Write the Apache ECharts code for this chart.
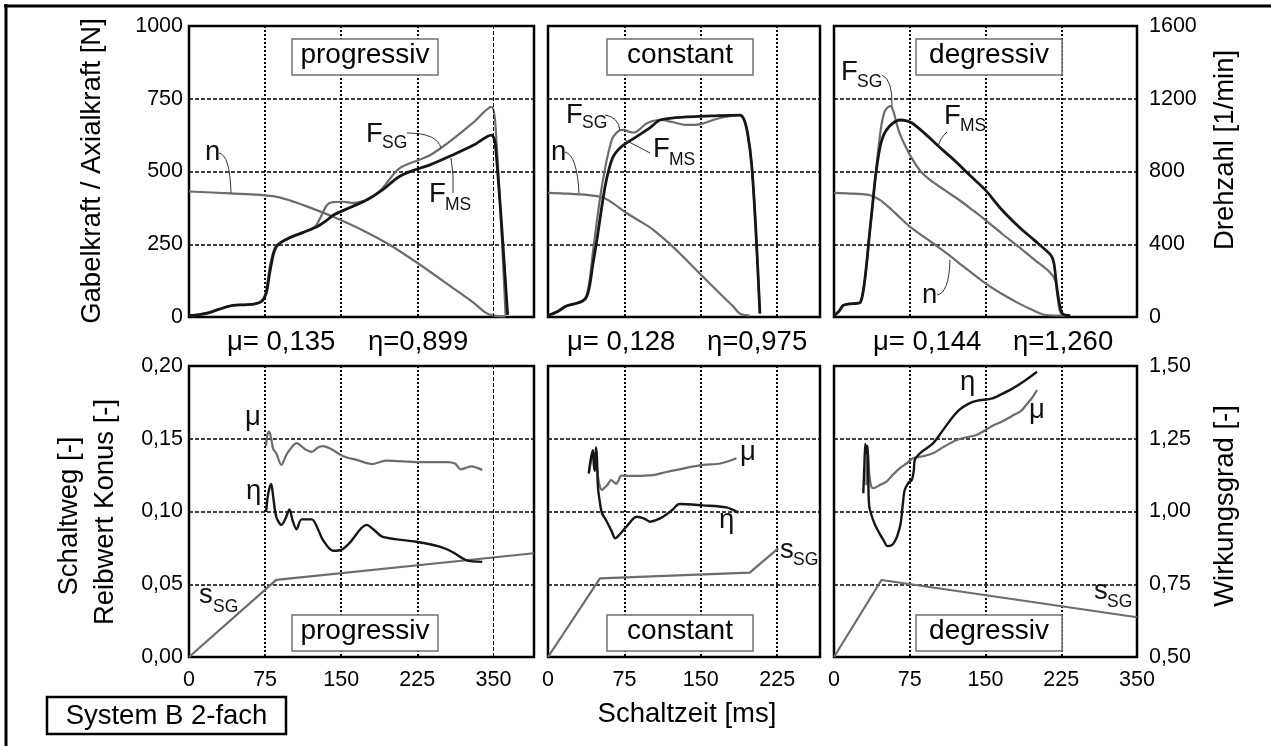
<!DOCTYPE html>
<html>
<head>
<meta charset="utf-8">
<title>System B 2-fach</title>
<script src="https://cdn.jsdelivr.net/npm/echarts@6/dist/echarts.min.js"></script>
<style>
  html, body { margin: 0; padding: 0; background: #fff; }
  #main { width: 1271px; height: 746px; }
</style>
</head>
<body>
<div id="main"></div>
<script>
// tick labels
var timeTicks = [0, 75, 150, 225, 300];
var timeTickText = ['0', '75', '150', '225', '350'];
var forceTicks = ['0', '250', '500', '750', '1000'];
var speedTicks = ['0', '400', '800', '1200', '1600'];
var frictionTicks = ['0,00', '0,05', '0,10', '0,15', '0,20'];
var effTicks = ['0,50', '0,75', '1,00', '1,25', '1,50'];
var variants = ['progressiv', 'constant', 'degressiv'];
var muMeans = ['μ= 0,135', 'μ= 0,128', 'μ= 0,144'];
var etaMeans = ['η=0,899', 'η=0,975', 'η=1,260'];

// progressiv  [t ms, value]
var progFsg = [[0,5],[10,8],[20,15],[30,27],[43,40],[55,42],[65,45],[72,55],[76,90],[79,160],[82,210],[86,245],[99,272],[112,290],[124,310],[130,345],[136,385],[142,395],[152,396],[162,392],[172,398],[180,410],[190,440],[207,510],[227,540],[237,555],[250,585],[265,625],[280,668],[298,722],[302,660],[312,7]];
var progFms = [[0,5],[10,8],[20,15],[30,27],[43,40],[55,42],[65,45],[72,55],[76,80],[79,140],[81,180],[84,225],[88,250],[99,272],[112,290],[126,310],[135,330],[142,350],[160,378],[175,402],[190,435],[207,482],[222,505],[237,522],[260,557],[280,590],[298,625],[302,590],[314,7]];
var progN = [[0,690],[40,680],[83,665],[100,640],[120,600],[142,551],[170,480],[198,396],[227,290],[260,160],[280,80],[293,22],[300,8],[312,3]];
var progMu = [[76,0.145],[77,0.152],[79,0.155],[81,0.150],[83,0.143],[86,0.140],[91,0.132],[96,0.139],[101,0.144],[106,0.147],[114,0.143],[121,0.141],[127,0.144],[132,0.145],[140,0.143],[152,0.138],[165,0.1355],[181,0.1326],[194,0.135],[227,0.134],[255,0.134],[262,0.133],[268,0.129],[273,0.130],[278,0.131],[284,0.130],[289,0.1285]];
var progEta = [[76,0.999],[78,1.06],[81,1.095],[83,1.05],[86,0.982],[91,0.954],[95,0.975],[99,1.007],[102,0.97],[106,0.939],[111,0.973],[121,0.973],[127,0.94],[132,0.902],[142,0.865],[150,0.868],[158,0.891],[175,0.954],[183,0.935],[191,0.913],[224,0.896],[247,0.879],[260,0.86],[273,0.833],[289,0.827]];
var progS = [[0,0],[86,0.053],[340,0.0713]];

// constant
var constFsg = [[0,5],[10,20],[18,38],[26,45],[34,55],[38,75],[41,130],[44,220],[48,330],[52,430],[56,510],[59,560],[63,612],[67,632],[71,642],[75,643],[80,636],[85,634],[91,648],[97,666],[110,677],[122,670],[136,660],[150,663],[162,677],[175,688],[188,694],[192,682],[196,630],[200,520],[204,300],[208,12]];
var constFms = [[0,5],[10,20],[18,38],[26,45],[34,55],[38,70],[41,110],[44,180],[48,265],[52,360],[56,448],[60,510],[64,551],[69,575],[74,591],[87,620],[100,650],[110,677],[125,685],[136,688],[160,691],[188,694],[192,682],[196,630],[200,520],[204,300],[208,12]];
var constN = [[0,683],[20,678],[40,670],[51,661],[60,640],[77,572],[90,528],[103,481],[116,420],[129,352],[140,290],[152,222],[165,150],[175,95],[182,57],[188,20],[194,10],[198,8]];
var constMu = [[40,0.126],[42,0.134],[44,0.142],[46,0.128],[47,0.136],[48,0.131],[50,0.120],[53,0.1148],[55,0.116],[58,0.118],[62,0.1216],[65,0.120],[67,0.119],[69,0.121],[72,0.1246],[85,0.1245],[103,0.125],[115,0.127],[129,0.129],[152,0.132],[169,0.133],[185,0.1366]];
var constEta = [[40,1.131],[42,1.18],[44,1.211],[45,1.16],[46,1.14],[47,1.22],[48,1.19],[49,1.085],[51,1.03],[53,0.994],[57,0.97],[62,0.936],[66,0.908],[70,0.92],[77,0.948],[87,0.982],[95,0.975],[100,0.965],[106,0.97],[113,0.982],[122,1.005],[129,1.026],[152,1.021],[175,1.014],[187,0.996]];
var constS = [[0,0],[51,0.0541],[198,0.058],[226,0.0747]];

// degressiv
var degrFsg = [[0,5],[5,20],[9,40],[15,45],[22,47],[26,50],[29,90],[32,173],[35,280],[38,379],[41,480],[44,580],[47,660],[50,705],[53,720],[56,725],[59,705],[62,665],[65,631],[71,585],[78,540],[86,500],[95,471],[110,435],[124,402],[137,368],[150,333],[166,287],[183,241],[198,198],[213,156],[219,127],[221,80],[224,17],[229,5]];
var degrFms = [[0,5],[5,20],[9,40],[15,45],[22,47],[26,50],[29,90],[32,173],[35,280],[38,379],[41,480],[45,574],[48,615],[52,643],[58,665],[65,677],[72,674],[78,665],[90,630],[104,585],[120,536],[135,485],[150,436],[165,373],[183,310],[198,265],[213,219],[216,205],[218,180],[220,120],[222,70],[226,12],[234,5]];
var degrN = [[0,683],[20,678],[35,671],[45,645],[55,600],[65,548],[75,497],[93,425],[111,352],[130,270],[150,185],[166,128],[183,75],[196,40],[210,11],[229,8]];
var degrMu = [[32,0.118],[33,0.143],[34,0.138],[35,0.125],[37,0.117],[39,0.116],[45,0.118],[52,0.1205],[58,0.125],[65,0.1297],[72,0.133],[78,0.1366],[88,0.138],[98,0.140],[110,0.145],[121,0.149],[131,0.151],[141,0.1526],[150,0.156],[157,0.159],[167,0.162],[177,0.166],[185,0.169],[190,0.173],[196,0.178],[201,0.1835]];
var degrEta = [[29,1.0625],[30,1.15],[31,1.232],[32,1.20],[33,1.225],[34,1.10],[35,1.016],[40,0.959],[45,0.925],[49,0.902],[53,0.881],[57,0.884],[60,0.896],[63,0.92],[66,0.959],[68,1.02],[70,1.074],[74,1.1],[77,1.108],[79,1.14],[80,1.177],[85,1.2],[98,1.234],[108,1.28],[116,1.318],[124,1.349],[133,1.37],[141,1.38],[157,1.389],[167,1.405],[177,1.423],[190,1.452],[201,1.48]];
var degrS = [[0,0],[47,0.0529],[300,0.0273]];

var FONT = "'Liberation Sans', Arial, Helvetica, sans-serif";
var INK = '#000';
var DARK = '#161616';
var GRAY = '#6c6c6c';

var gridLeft = [189, 548, 834];
var gridWidth = [345, 272, 303];
var gridTop = [26, 366];
var timeMax = [340, 267, 300];

function timeLabel(v) {
  var i = timeTicks.indexOf(Math.round(v));
  return i < 0 ? '' : timeTickText[i];
}
function stepLabel(list, min, step) {
  return function (v) {
    return list[Math.round((v - min) / step)] || '';
  };
}

var tickFont = { fontSize: 21.5, fontFamily: FONT, color: INK };

var grids = [], xAxes = [], yAxes = [];
for (var r = 0; r < 2; r++) {
  for (var c = 0; c < 3; c++) {
    var g = r * 3 + c;
    grids.push({
      left: gridLeft[c], top: gridTop[r], width: gridWidth[c], height: 291,
      show: true, borderColor: INK, borderWidth: 2.5, backgroundColor: 'transparent',
      outerBoundsMode: 'none'
    });
    xAxes.push({
      type: 'value', gridIndex: g, min: 0, max: timeMax[c], interval: 75,
      axisLine: { show: false }, axisTick: { show: false },
      axisLabel: Object.assign({ show: r === 1, margin: 12, formatter: timeLabel }, tickFont),
      splitLine: {
        show: true,
        lineStyle: {
          color: c === 0 ? ['#000', '#000', '#000', '#000', 'rgba(0,0,0,0)', '#000'] : '#000',
          width: 2, type: [2, 2]
        }
      }
    });
    var lmin = 0, lmax = r === 0 ? 1000 : 0.2, lstep = r === 0 ? 250 : 0.05;
    var rmin = r === 0 ? 0 : 0.5, rmax = r === 0 ? 1600 : 1.5, rstep = r === 0 ? 400 : 0.25;
    yAxes.push({
      type: 'value', gridIndex: g, position: 'left', min: lmin, max: lmax, interval: lstep,
      axisLine: { show: false }, axisTick: { show: false },
      axisLabel: Object.assign({ show: c === 0, margin: 6,
        formatter: stepLabel(r === 0 ? forceTicks : frictionTicks, lmin, lstep) }, tickFont),
      splitLine: { show: true, lineStyle: { color: '#000', width: 1.5, type: [4, 2] } }
    });
    yAxes.push({
      type: 'value', gridIndex: g, position: 'right', min: rmin, max: rmax, interval: rstep,
      axisLine: { show: false }, axisTick: { show: false },
      axisLabel: Object.assign({ show: c === 2, margin: 12,
        formatter: stepLabel(r === 0 ? speedTicks : effTicks, rmin, rstep) }, tickFont),
      splitLine: { show: false }
    });
  }
}

function line(data, g, yIdx, color, width, smooth) {
  return {
    type: 'line', xAxisIndex: g, yAxisIndex: yIdx, data: data,
    symbol: 'none', smooth: smooth, silent: true,
    lineStyle: { color: color, width: width }, itemStyle: { color: color }
  };
}

var topSets = [[progFsg, progFms, progN], [constFsg, constFms, constN], [degrFsg, degrFms, degrN]];
var bottomSets = [[progMu, progEta, progS], [constMu, constEta, constS], [degrMu, degrEta, degrS]];

var series = [];
for (var c = 0; c < 3; c++) {
  var gt = c, gb = c + 3;
  series.push(line(topSets[c][2], gt, 2 * gt + 1, GRAY, 2.2, 0.3));
  series.push(line(topSets[c][0], gt, 2 * gt, GRAY, 2.2, 0.3));
  series.push(line(topSets[c][1], gt, 2 * gt, DARK, 2.8, 0.3));
  series.push(line(bottomSets[c][2], gb, 2 * gb, GRAY, 2.2, false));
  series.push(line(bottomSets[c][0], gb, 2 * gb, GRAY, 2.2, 0.3));
  series.push(line(bottomSets[c][1], gb, 2 * gb + 1, DARK, 2.4, 0.3));
}
// thin dashed line at the last time tick of the first column
var lastTick = {
  silent: true, symbol: 'none', label: { show: false },
  lineStyle: { color: '#000', width: 1, type: [4, 2] },
  data: [{ xAxis: timeTicks[4] }]
};
series[1].markLine = lastTick;
series[3].markLine = lastTick;

// ---- text and frames ----
var gfx = [];
function txt(x, y, s, size, opt) {
  opt = opt || {};
  return {
    type: 'text', x: x, y: y, rotation: opt.rot || 0, z: 100,
    style: {
      text: s, font: size + 'px ' + FONT, fill: opt.color || INK,
      align: opt.align || 'center', verticalAlign: 'middle',
      textAlign: opt.align || 'center', textVerticalAlign: 'middle'
    }
  };
}

gfx.push({ type: 'line', z: 100, shape: { x1: 4, y1: 6, x2: 1271, y2: 6 }, style: { stroke: INK, lineWidth: 3 } });
gfx.push({ type: 'line', z: 100, shape: { x1: 6, y1: 4, x2: 6, y2: 746 }, style: { stroke: INK, lineWidth: 3 } });

var boxX = [292, 607, 916], boxTop = [39, 615];
for (var c = 0; c < 3; c++) {
  for (var r = 0; r < 2; r++) {
    gfx.push({ type: 'rect', z: 90, shape: { x: boxX[c], y: boxTop[r], width: 146, height: 36 },
      style: { fill: '#fff', stroke: '#707070', lineWidth: 1.5 } });
    gfx.push(txt(boxX[c] + 73, boxTop[r] + 16, variants[c], 28));
  }
}

var muX = [227, 567, 873], etaX = [368, 707, 1013];
for (var c = 0; c < 3; c++) {
  gfx.push(txt(muX[c], 342, muMeans[c], 27.5, { align: 'left' }));
  gfx.push(txt(etaX[c], 342, etaMeans[c], 27.5, { align: 'left' }));
}

gfx.push(txt(92, 171, 'Gabelkraft / Axialkraft [N]', 27.5, { rot: Math.PI / 2 }));
gfx.push(txt(69, 516, 'Schaltweg [-]', 27.5, { rot: Math.PI / 2 }));
gfx.push(txt(105, 512, 'Reibwert Konus [-]', 27.5, { rot: Math.PI / 2 }));
gfx.push(txt(1225, 150, 'Drehzahl [1/min]', 27.5, { rot: Math.PI / 2 }));
gfx.push(txt(1225, 506, 'Wirkungsgrad [-]', 27.5, { rot: Math.PI / 2 }));
gfx.push(txt(687, 714, 'Schaltzeit [ms]', 27.5));

gfx.push({ type: 'rect', z: 90, shape: { x: 47, y: 697, width: 239, height: 37 },
  style: { fill: '#fff', stroke: INK, lineWidth: 2.5 } });
gfx.push(txt(166.5, 716, 'System B 2-fach', 27.5));

// curve names: [x, y, main, subX, subY, sub]
var notes = [
  [205, 152.5, 'n'],
  [366, 134, 'F', 382, 143.5, 'SG'],
  [429, 194, 'F', 445, 205, 'MS'],
  [551, 152.5, 'n'],
  [566, 115, 'F', 582, 123.5, 'SG'],
  [653, 149.5, 'F', 669, 160, 'MS'],
  [841, 72.5, 'F', 857, 82.5, 'SG'],
  [944, 116, 'F', 960, 126, 'MS'],
  [922, 295, 'n'],
  [245, 417.5, 'μ'],
  [246, 491.5, 'η'],
  [199, 595.5, 's', 213, 607, 'SG'],
  [740, 452.5, 'μ'],
  [719, 520.5, 'η'],
  [780, 550, 's', 793, 560.5, 'SG'],
  [960, 382, 'η'],
  [1029, 410.5, 'μ'],
  [1094, 591, 's', 1107, 602.5, 'SG']
];
notes.forEach(function (n) {
  gfx.push(txt(n[0], n[1], n[2], 27.5, { align: 'left', color: '#111' }));
  if (n[5]) gfx.push(txt(n[3], n[4], n[5], 17.5, { align: 'left', color: '#111' }));
});

// leader lines: start, control, end
var leaders = [
  [219, 153, 230, 155, 231, 193],
  [407, 133, 437, 133, 441, 148],
  [451, 158, 454, 175, 453, 193],
  [565, 152, 577, 155, 579, 193],
  [605, 115, 618, 117, 620, 130],
  [650, 153, 637, 146, 625, 140],
  [882, 75, 893, 80, 892, 107],
  [947, 132, 940, 138, 938, 147],
  [937, 295, 949, 293, 950, 260]
];
leaders.forEach(function (l) {
  gfx.push({ type: 'bezierCurve', z: 100,
    shape: { x1: l[0], y1: l[1], cpx1: l[2], cpy1: l[3], x2: l[4], y2: l[5] },
    style: { stroke: '#333', lineWidth: 1, fill: null } });
});

var chart = echarts.init(document.getElementById('main'));
var option = {
  animation: false,
  backgroundColor: '#fff',
  grid: grids,
  xAxis: xAxes,
  yAxis: yAxes,
  series: series,
  graphic: { elements: gfx }
};
option && chart.setOption(option);
</script>
</body>
</html>
